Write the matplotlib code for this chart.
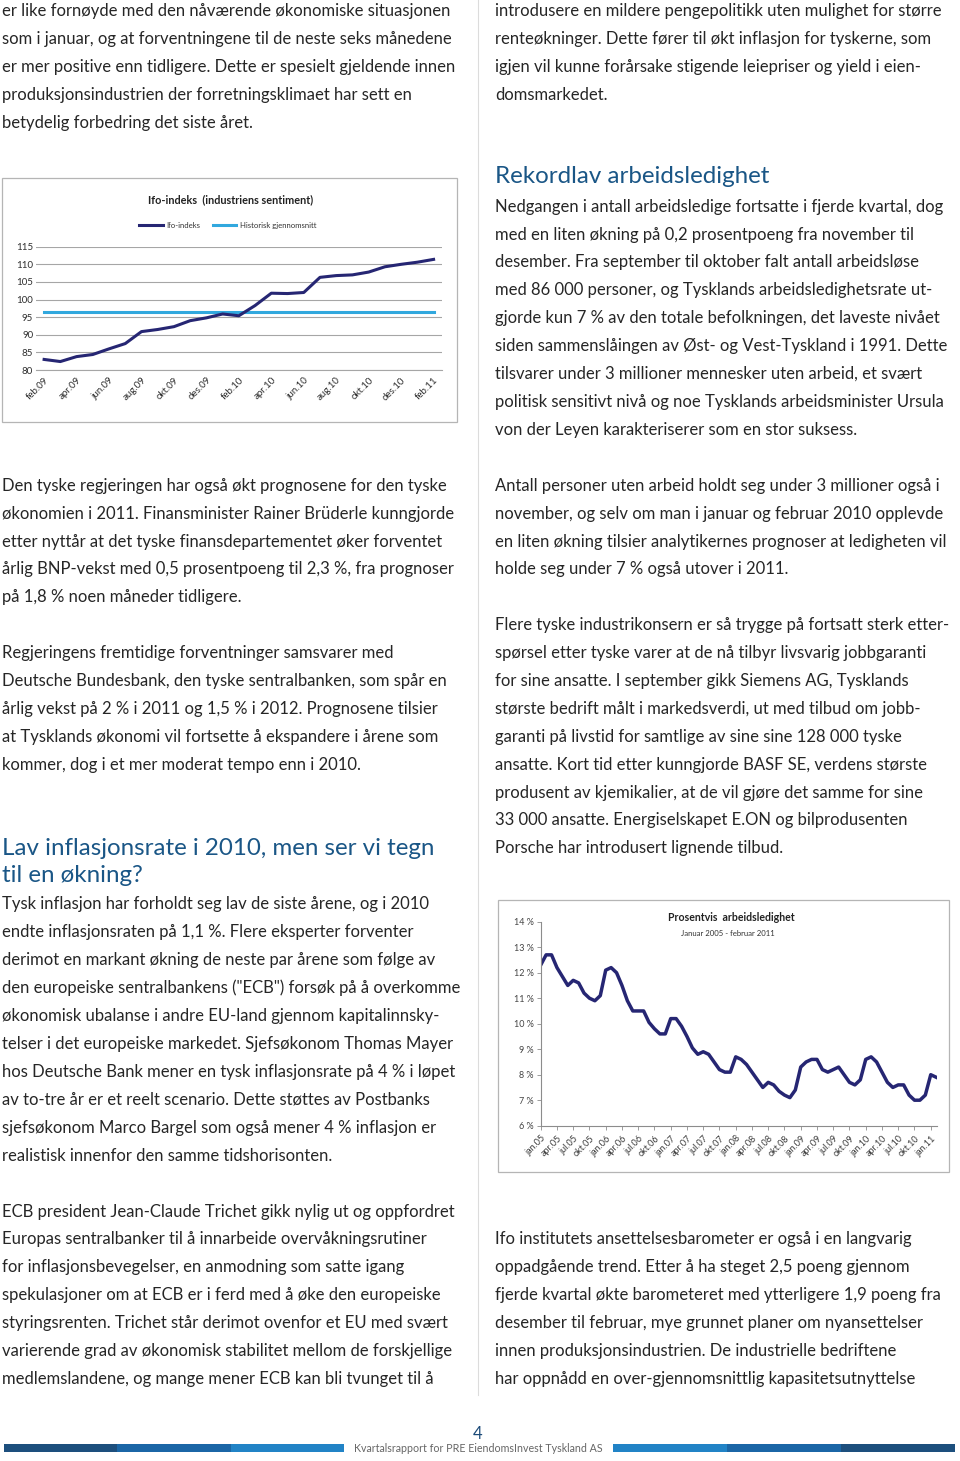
import matplotlib
matplotlib.use("Agg")
import matplotlib.pyplot as plt
from matplotlib.patches import Rectangle

# ---------------- data ----------------
ifo_months = ["feb.09", "mar.09", "apr.09", "mai.09", "jun.09", "jul.09", "aug.09", "sep.09",
              "okt.09", "nov.09", "des.09", "jan.10", "feb.10", "mar.10", "apr.10", "mai.10",
              "jun.10", "jul.10", "aug.10", "sep.10", "okt.10", "nov.10", "des.10", "jan.11", "feb.11"]
ifo_values = [83.0, 82.4, 83.8, 84.4, 86.0, 87.5, 90.9, 91.5, 92.3, 94.0, 94.8, 95.9, 95.4,
              98.3, 101.8, 101.7, 102.0, 106.3, 106.8, 107.0, 107.8, 109.3, 110.0, 110.6, 111.4]
ifo_hist_avg = 96.6
ifo_yticks = [80, 85, 90, 95, 100, 105, 110, 115]

unemp_years = ["05", "06", "07", "08", "09", "10", "11"]
unemp_month_names = ["jan", "feb", "mar", "apr", "mai", "jun", "jul", "aug", "sep", "okt", "nov", "des"]
unemp_values = [
    12.3, 12.7, 12.7, 12.2, 11.85, 11.5, 11.7, 11.6, 11.2, 11.0, 10.9, 11.1,
    12.1, 12.2, 12.0, 11.5, 10.9, 10.5, 10.5, 10.5, 10.05, 9.8, 9.6, 9.6,
    10.2, 10.2, 9.9, 9.5, 9.05, 8.8, 8.9, 8.8, 8.5, 8.2, 8.1, 8.1,
    8.7, 8.6, 8.4, 8.1, 7.8, 7.5, 7.7, 7.6, 7.35, 7.2, 7.1, 7.4,
    8.3, 8.5, 8.6, 8.6, 8.2, 8.1, 8.2, 8.3, 8.0, 7.7, 7.6, 7.8,
    8.6, 8.7, 8.5, 8.1, 7.7, 7.5, 7.6, 7.6, 7.2, 7.0, 7.0, 7.2,
    8.0, 7.9,
]
unemp_yticks = [6, 7, 8, 9, 10, 11, 12, 13, 14]

# ---------------- text ----------------
left_block1 = [
    "er like fornøyde med den nåværende økonomiske situasjonen",
    "som i januar, og at forventningene til de neste seks månedene",
    "er mer positive enn tidligere. Dette er spesielt gjeldende innen",
    "produksjonsindustrien der forretningsklimaet har sett en",
    "betydelig forbedring det siste året.",
]
right_block1 = [
    "introdusere en mildere pengepolitikk uten mulighet for større",
    "renteøkninger. Dette fører til økt inflasjon for tyskerne, som",
    "igjen vil kunne forårsake stigende leiepriser og yield i eien-",
    "domsmarkedet.",
]
heading_unemp = ["Rekordlav arbeidsledighet"]
right_block2 = [
    "Nedgangen i antall arbeidsledige fortsatte i fjerde kvartal, dog",
    "med en liten økning på 0,2 prosentpoeng fra november til",
    "desember. Fra september til oktober falt antall arbeidsløse",
    "med 86 000 personer, og Tysklands arbeidsledighetsrate ut-",
    "gjorde kun 7 % av den totale befolkningen, det laveste nivået",
    "siden sammenslåingen av Øst- og Vest-Tyskland i 1991. Dette",
    "tilsvarer under 3 millioner mennesker uten arbeid, et svært",
    "politisk sensitivt nivå og noe Tysklands arbeidsminister Ursula",
    "von der Leyen karakteriserer som en stor suksess.",
]
left_block2 = [
    "Den tyske regjeringen har også økt prognosene for den tyske",
    "økonomien i 2011. Finansminister Rainer Brüderle kunngjorde",
    "etter nyttår at det tyske finansdepartementet øker forventet",
    "årlig BNP-vekst med 0,5 prosentpoeng til 2,3 %, fra prognoser",
    "på 1,8 % noen måneder tidligere.",
]
left_block3 = [
    "Regjeringens fremtidige forventninger samsvarer med",
    "Deutsche Bundesbank, den tyske sentralbanken, som spår en",
    "årlig vekst på 2 % i 2011 og 1,5 % i 2012. Prognosene tilsier",
    "at Tysklands økonomi vil fortsette å ekspandere i årene som",
    "kommer, dog i et mer moderat tempo enn i 2010.",
]
heading_infl = ["Lav inflasjonsrate i 2010, men ser vi tegn", "til en økning?"]
left_block4 = [
    "Tysk inflasjon har forholdt seg lav de siste årene, og i 2010",
    "endte inflasjonsraten på 1,1 %. Flere eksperter forventer",
    "derimot en markant økning de neste par årene som følge av",
    "den europeiske sentralbankens (\"ECB\") forsøk på å overkomme",
    "økonomisk ubalanse i andre EU-land gjennom kapitalinnsky-",
    "telser i det europeiske markedet. Sjefsøkonom Thomas Mayer",
    "hos Deutsche Bank mener en tysk inflasjonsrate på 4 % i løpet",
    "av to-tre år er et reelt scenario. Dette støttes av Postbanks",
    "sjefsøkonom Marco Bargel som også mener 4 % inflasjon er",
    "realistisk innenfor den samme tidshorisonten.",
]
left_block5 = [
    "ECB president Jean-Claude Trichet gikk nylig ut og oppfordret",
    "Europas sentralbanker til å innarbeide overvåkningsrutiner",
    "for inflasjonsbevegelser, en anmodning som satte igang",
    "spekulasjoner om at ECB er i ferd med å øke den europeiske",
    "styringsrenten. Trichet står derimot ovenfor et EU med svært",
    "varierende grad av økonomisk stabilitet mellom de forskjellige",
    "medlemslandene, og mange mener ECB kan bli tvunget til å",
]
right_block3 = [
    "Antall personer uten arbeid holdt seg under 3 millioner også i",
    "november, og selv om man i januar og februar 2010 opplevde",
    "en liten økning tilsier analytikernes prognoser at ledigheten vil",
    "holde seg under 7 % også utover i 2011.",
]
right_block4 = [
    "Flere tyske industrikonsern er så trygge på fortsatt sterk etter-",
    "spørsel etter tyske varer at de nå tilbyr livsvarig jobbgaranti",
    "for sine ansatte. I september gikk Siemens AG, Tysklands",
    "største bedrift målt i markedsverdi, ut med tilbud om jobb-",
    "garanti på livstid for samtlige av sine sine 128 000 tyske",
    "ansatte. Kort tid etter kunngjorde BASF SE, verdens største",
    "produsent av kjemikalier, at de vil gjøre det samme for sine",
    "33 000 ansatte. Energiselskapet E.ON og bilprodusenten",
    "Porsche har introdusert lignende tilbud.",
]
right_block5 = [
    "Ifo institutets ansettelsesbarometer er også i en langvarig",
    "oppadgående trend. Etter å ha steget 2,5 poeng gjennom",
    "fjerde kvartal økte barometeret med ytterligere 1,9 poeng fra",
    "desember til februar, mye grunnet planer om nyansettelser",
    "innen produksjonsindustrien. De industrielle bedriftene",
    "har oppnådd en over-gjennomsnittlig kapasitetsutnyttelse",
]
ifo_title = "Ifo-indeks  (industriens sentiment)"
ifo_labels = ["Ifo-indeks", "Historisk gjennomsnitt"]
unemp_title = "Prosentvis  arbeidsledighet"
unemp_subtitle = "Januar 2005 - februar 2011"
page_number = "4"
footer_text = "Kvartalsrapport for PRE EiendomsInvest Tyskland AS"

# ---------------- style ----------------
W, H = 960, 1461
FONT = ["Lato", "DejaVu Sans"]
plt.rcParams["font.family"] = FONT
TEXT_COL = "#262626"
HEAD_COL = "#1a5686"
NAVY = "#262673"
LIGHTBLUE = "#31a8de"
BODY_SIZE = 12.0
HEAD_SIZE = 17.4
LINE_H = 27.9

fig = plt.figure(figsize=(W / 100, H / 100), dpi=100)
bg = fig.add_axes([0, 0, 1, 1])
bg.set_xlim(0, W)
bg.set_ylim(H, 0)
bg.axis("off")


def block(lines, x, y0, size=BODY_SIZE, color=TEXT_COL, step=LINE_H):
    for i, s in enumerate(lines):
        bg.text(x, y0 + i * step, s, fontsize=size, color=color, va="baseline", ha="left")


LX, RX = 2, 495
block(left_block1, LX, 16.4)
block(right_block1, RX, 16.4)
block(heading_unemp, RX, 183.3, size=HEAD_SIZE, color=HEAD_COL)
block(right_block2, RX, 211.7)
block(left_block2, LX, 490.7)
block(right_block3, RX, 490.7)
block(left_block3, LX, 658.1)
block(right_block4, RX, 630.2)
block(heading_infl, LX, 855.0, size=HEAD_SIZE, color=HEAD_COL, step=27.0)
block(left_block4, LX, 909.5)
block(left_block5, LX, 1216.5)
block(right_block5, RX, 1244.2)

# column divider
bg.plot([478, 478], [0, 1395], color="#dcdcdc", lw=0.8)

# chart frames
bg.add_patch(Rectangle((2, 177.7), 454.7, 244.6, fill=False, ec="#b5b5b5", lw=0.9))
bg.add_patch(Rectangle((497.7, 900), 451.3, 271.7, fill=False, ec="#b5b5b5", lw=0.9))

# footer
bar_cols_left = ["#1d4f7d", "#1b66a6", "#2183c6"]
bar_cols_right = ["#2183c6", "#1b66a6", "#1d4f7d"]
for i, c in enumerate(bar_cols_left):
    bg.add_patch(Rectangle((4 + i * 113.4, 1443.5), 113.4, 8.5, color=c, lw=0))
for i, c in enumerate(bar_cols_right):
    bg.add_patch(Rectangle((613 + i * 114, 1443.5), 114, 8.5, color=c, lw=0))
bg.text(478, 1439, page_number, fontsize=12, color="#1b4a78", ha="center", va="baseline")
bg.text(478.5, 1452, footer_text, fontsize=7.7, color="#666666", ha="center", va="baseline")


def px_axes(x0, y0, x1, y1):
    a = fig.add_axes([x0 / W, 1 - y1 / H, (x1 - x0) / W, (y1 - y0) / H])
    a.set_facecolor("none")
    return a


# ---------------- chart 1: Ifo ----------------
ax1 = px_axes(36, 246.7, 441.7, 370.0)
xi = list(range(len(ifo_values)))
l1, = ax1.plot(xi, ifo_values, color=NAVY, lw=2.2, solid_joinstyle="round", zorder=3)
l2, = ax1.plot(xi, [ifo_hist_avg] * len(xi), color=LIGHTBLUE, lw=2.2, zorder=2)
ax1.set_xlim(-0.5, len(xi) - 0.5)
ax1.set_ylim(80, 115)
ax1.set_yticks(ifo_yticks)
ax1.set_yticklabels([str(v) for v in ifo_yticks], fontsize=7.0, color="#2e2e2e")
ax1.set_xticks(xi[::2])
ax1.set_xticklabels(ifo_months[::2], fontsize=7.0, color="#2e2e2e", rotation=45,
                    ha="right", rotation_mode="anchor")
ax1.tick_params(axis="both", length=0, pad=2)
ax1.tick_params(axis="x", pad=4)
ax1.yaxis.grid(True, color="#a6a6a6", lw=0.8)
ax1.set_axisbelow(True)
for s in ["top", "right", "left"]:
    ax1.spines[s].set_visible(False)
ax1.spines["bottom"].set_color("#a6a6a6")
ax1.spines["bottom"].set_linewidth(0.8)
bg.text(231, 203, ifo_title, fontsize=7.8, fontweight="bold", color="#222222", ha="center", va="baseline")
leg = ax1.legend([l1, l2], ifo_labels, loc="center", bbox_to_anchor=(228 / W, 1 - 225.7 / H),
                 bbox_transform=fig.transFigure, ncol=2, frameon=False, fontsize=5.6,
                 handlelength=3.0, columnspacing=1.6, handletextpad=0.5)
for t in leg.get_texts():
    t.set_color("#333333")

# ---------------- chart 2: unemployment ----------------
unemp_months = [m + "." + y for y in unemp_years for m in unemp_month_names][:len(unemp_values)]
ax2 = px_axes(540.7, 921.7, 936.7, 1125.7)
xu = list(range(len(unemp_values)))
ax2.plot(xu, unemp_values, color=NAVY, lw=2.5, solid_joinstyle="round")
ax2.set_xlim(0, len(xu) - 0.9)
ax2.set_ylim(6, 14)
ax2.set_yticks(unemp_yticks)
ax2.set_yticklabels([f"{v} %" for v in unemp_yticks], fontsize=6.5, color="#444444")
ax2.set_xticks(xu[::3])
ax2.set_xticklabels(unemp_months[::3], fontsize=6.5, color="#3a3a3a", rotation=45,
                    ha="right", rotation_mode="anchor")
ax2.tick_params(axis="both", length=3, width=0.6, color="#8c8c8c", pad=2)
ax2.tick_params(axis="x", pad=3)
for s in ["top", "right"]:
    ax2.spines[s].set_visible(False)
for s in ["left", "bottom"]:
    ax2.spines[s].set_color("#8c8c8c")
    ax2.spines[s].set_linewidth(0.8)
bg.text(731, 921, unemp_title, fontsize=7.6, fontweight="bold", color="#222222", ha="center", va="baseline")
bg.text(728, 936, unemp_subtitle, fontsize=5.6, color="#333333", ha="center", va="baseline")

fig.savefig("out.png", dpi=100)
